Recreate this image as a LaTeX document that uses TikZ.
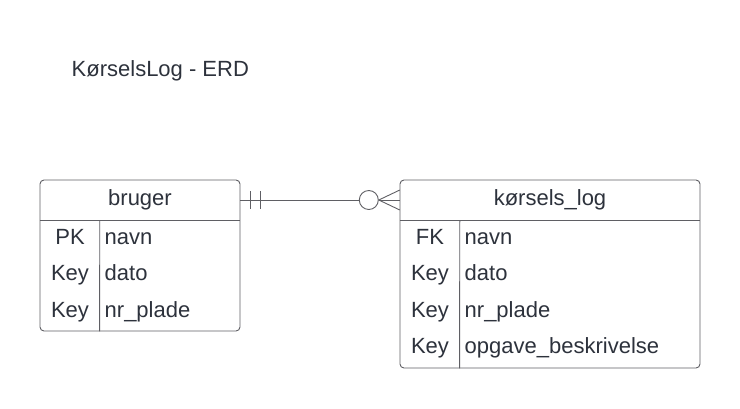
\documentclass[tikz,border=0pt]{standalone}
\usepackage{fontspec}
\setmainfont{Liberation Sans}
\usetikzlibrary{calc}
\definecolor{ln}{RGB}{95,95,100}
\definecolor{tx}{RGB}{45,50,60}
\begin{document}
\begin{tikzpicture}[x=1pt,y=-1pt,
  tbl/.style={draw=ln,line width=0.9pt,rounded corners=4pt,fill=white,inner sep=0pt},
  hdr/.style={draw=none,inner sep=0pt,minimum height=40pt},
  txt/.style={text=tx,font=\fontsize{22}{26}\selectfont,inner sep=0pt,anchor=base},
  fld/.style={txt,anchor=base west},
  rule/.style={draw=ln,line width=0.9pt},
]
\useasboundingbox (0,0) rectangle (740,408);
\node[txt,anchor=base west] (title) at (71.5,76.5) {KørselsLog - ERD};
% bruger
\node[tbl,minimum width=200pt,minimum height=151pt] (bruger) at (140,255.5) {};
\node[hdr,minimum width=200pt] (bh) at (140,200) {};
\node[txt] (bht) at (140,205.5) {bruger};
\draw[rule] (bh.south west) -- (bh.south east);
\draw[rule] ($(bh.south west)+(60,0)$) -- ($(bruger.south west)+(60,0)$);
\node[txt] (b1k) at (70,244) {PK};
\node[fld] (b1f) at (104.5,244) {navn};
\node[txt] (b2k) at (70,280.5) {Key};
\node[fld] (b2f) at (104.5,280.5) {dato};
\node[txt] (b3k) at (70,317) {Key};
\node[fld] (b3f) at (104.5,317) {nr\_plade};
% koersels_log
\node[tbl,minimum width=300pt,minimum height=188pt] (log) at (550,274) {};
\node[hdr,minimum width=300pt] (lh) at (550,200) {};
\node[txt] (lht) at (550,205.5) {kørsels\_log};
\draw[rule] (lh.south west) -- (lh.south east);
\draw[rule] ($(lh.south west)+(60,0)$) -- ($(log.south west)+(60,0)$);
\node[txt] (l1k) at (430,244) {FK};
\node[fld] (l1f) at (464.5,244) {navn};
\node[txt] (l2k) at (430,280.5) {Key};
\node[fld] (l2f) at (464.5,280.5) {dato};
\node[txt] (l3k) at (430,317) {Key};
\node[fld] (l3f) at (464.5,317) {nr\_plade};
\node[txt] (l4k) at (430,353.5) {Key};
\node[fld] (l4f) at (464.5,353.5) {opgave\_beskrivelse};
% connector
\coordinate (cc) at ($(lh.west)+(-31,0)$);
\draw[rule] (bh.east) -- ($(cc)+(-9.5,0)$);
\draw[rule] ($(bh.east)+(10.5,-9)$) -- ($(bh.east)+(10.5,9)$);
\draw[rule] ($(bh.east)+(20.5,-9)$) -- ($(bh.east)+(20.5,9)$);
\draw[rule] (cc) circle[radius=9.5pt];
\draw[rule] ($(lh.west)+(0,-10)$) -- ($(lh.west)+(-21,0)$) -- ($(lh.west)+(0,10)$);
\draw[rule] ($(lh.west)+(-21,0)$) -- (lh.west);
\end{tikzpicture}
\end{document}
